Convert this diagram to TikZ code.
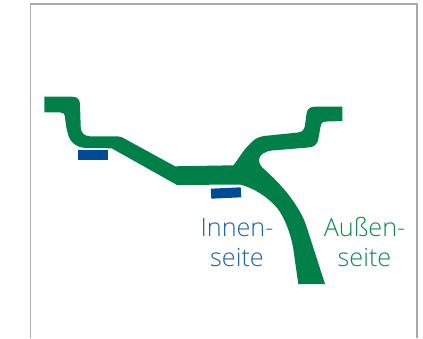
\documentclass[tikz,border=0pt]{standalone}
\usepackage{fontspec}
\setmainfont{Open Sans Light}
\definecolor{rimgreen}{HTML}{007F49}
\definecolor{padblue}{HTML}{004A96}
\definecolor{innertext}{HTML}{1F63AA}
\definecolor{outertext}{HTML}{0F8A55}
\definecolor{framegrey}{HTML}{A8A8A8}
\tikzset{
  sidelabel/.style={align=center,font=\fontsize{25.2}{30}\selectfont,inner sep=0pt,anchor=base},
  pad/.style={fill=padblue,draw=none},
  rim/.style={fill=rimgreen,draw=none}
}
\begin{document}
\begin{tikzpicture}[x=1pt,y=-1pt]
\useasboundingbox (0,0) rectangle (423,338);
\draw[framegrey,line width=1.2pt] (30.5,338) -- (30.5,4) -- (417,4) -- (417,338);
\fill[rim] (44.3,96.7) -- (72,96.7) .. controls (78,96.7) and (80,100) .. (80,105)
  -- (80.7,126.7) .. controls (81,133) and (84,136) .. (90,136.3)
  -- (117,136.3) .. controls (121,136.5) and (124,138) .. (127,140)
  -- (175,166.3) -- (233.3,165.3)
  .. controls (238,160) and (243,150) .. (250,144)
  .. controls (254,139) and (258,137) .. (264,136)
  -- (298,132.5) .. controls (303,132) and (304.5,129) .. (305,125)
  -- (306.5,114) .. controls (307,109) and (310,106.7) .. (315,106.7)
  -- (342.3,106.7) -- (342.3,121) -- (327,121.5)
  .. controls (322,121.7) and (321,123) .. (320.5,127)
  -- (318.5,138) .. controls (317.5,145) and (314,147) .. (308,147.5)
  -- (272,150.5) .. controls (264,151.5) and (259,155) .. (259,160)
  .. controls (259,163) and (260,165) .. (262,167.3)
  .. controls (272,176) and (283,187) .. (291,198)
  .. controls (298,208) and (303,216) .. (306,225)
  -- (325,284) -- (298.3,284)
  -- (293,247) .. controls (290,232) and (285,219) .. (278,209)
  .. controls (268,197) and (254,188) .. (240,184.5)
  -- (177,185) -- (111.7,148.3) -- (86,148)
  .. controls (76,147.5) and (70,142) .. (68,134)
  .. controls (66,128) and (65.5,122) .. (65,117)
  .. controls (64.5,113.5) and (63,112.3) .. (60,112.3)
  -- (44.3,112.3) -- cycle;
\fill[pad] (78.3,150) rectangle (108.3,160);
\fill[pad] (210.7,188.7) -- (240.7,187.3) -- (241.3,197.3) -- (211.3,198.7) -- cycle;
\node[sidelabel,text=innertext] (innen) at (237,266) {Innen-\\seite};
\node[sidelabel,text=outertext] (aussen) at (364.5,266) {Außen-\\seite};
\end{tikzpicture}
\end{document}
